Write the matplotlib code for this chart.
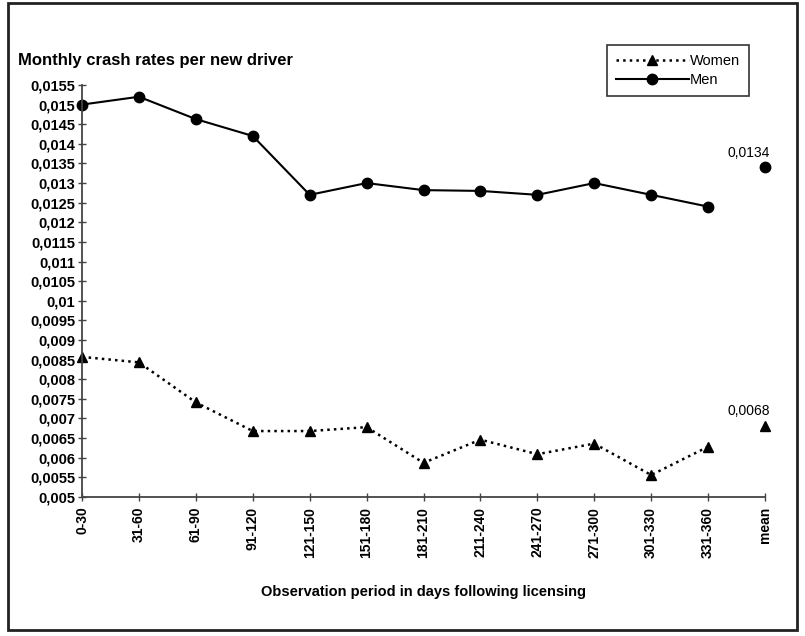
import matplotlib
matplotlib.use('Agg')
import matplotlib.pyplot as plt
from matplotlib.patches import Rectangle
from matplotlib.ticker import FuncFormatter

plt.rcParams['font.family'] = ['Liberation Sans', 'DejaVu Sans']

periods = ['0-30', '31-60', '61-90', '91-120', '121-150', '151-180', '181-210',
           '211-240', '241-270', '271-300', '301-330', '331-360', 'mean']
men = [0.0150, 0.0152, 0.01463, 0.0142, 0.0127, 0.0130, 0.01282,
       0.0128, 0.0127, 0.0130, 0.0127, 0.0124]
women = [0.00857, 0.00843, 0.00741, 0.00668, 0.00668, 0.00678, 0.00587,
         0.00646, 0.00609, 0.00636, 0.00556, 0.00628]
men_mean = 0.0134
women_mean = 0.0068
yticks = [0.005 + 0.0005 * i for i in range(22)]

fig = plt.figure(figsize=(8.05, 6.36), dpi=100)
ax = fig.add_axes([0.1019, 0.2186, 0.8484, 0.6478])

x = list(range(len(periods) - 1))
ax.plot(x, women, color='black', linestyle=':', linewidth=1.8, marker='^',
        markersize=7.5, label='Women', clip_on=False)
ax.plot(x, men, color='black', linestyle='-', linewidth=1.5, marker='o',
        markersize=7.5, label='Men', clip_on=False)
ax.plot([len(periods) - 1], [women_mean], color='black', marker='^', markersize=7.5,
        linestyle='none', clip_on=False)
ax.plot([len(periods) - 1], [men_mean], color='black', marker='o', markersize=7.5,
        linestyle='none', clip_on=False)

ax.text(len(periods) - 1 + 0.08, men_mean + 0.0002, str(men_mean).replace('.', ','),
        ha='right', va='bottom', fontsize=10)
ax.text(len(periods) - 1 + 0.08, women_mean + 0.0002, str(women_mean).replace('.', ','),
        ha='right', va='bottom', fontsize=10)

ax.set_xlim(0, len(periods) - 1)
ax.set_ylim(0.005, 0.0155)
ax.set_xticks(range(len(periods)))
ax.set_xticklabels(periods, rotation=90, fontsize=10, fontweight='bold')
ax.set_yticks(yticks)
ax.yaxis.set_major_formatter(FuncFormatter(lambda v, p: ('%g' % round(v, 5)).replace('.', ',')))
ax.tick_params(axis='both', direction='inout', length=6, width=1, colors='#444444',
               labelcolor='black')
ax.tick_params(axis='y', labelsize=10.5, pad=2)
ax.tick_params(axis='x', labelsize=10, pad=4)
for lab in ax.get_yticklabels() + ax.get_xticklabels():
    lab.set_fontweight('bold')

for s in ['top', 'right']:
    ax.spines[s].set_visible(False)
for s in ['left', 'bottom']:
    ax.spines[s].set_color('#444444')
    ax.spines[s].set_linewidth(1.3)

ax.set_xlabel('Observation period in days following licensing', fontsize=10.5,
              fontweight='bold', labelpad=20)
fig.text(18 / 805, 1 - 60 / 636, 'Monthly crash rates per new driver', fontsize=12,
         fontweight='bold', va='center', ha='left')

leg = ax.legend(loc='upper left', bbox_to_anchor=(607 / 805, 1 - 45 / 636),
                bbox_transform=fig.transFigure, frameon=True, fancybox=False,
                fontsize=10.5, handlelength=5, borderpad=0.6, labelspacing=0.35,
                handletextpad=0.1, borderaxespad=0)
leg.get_frame().set_edgecolor('black')
leg.get_frame().set_linewidth(1.2)

fig.patches.append(Rectangle((0.01, 0.01), 0.98, 0.985, transform=fig.transFigure,
                             fill=False, edgecolor='#222222', linewidth=2))

fig.savefig('out.png', dpi=100)
